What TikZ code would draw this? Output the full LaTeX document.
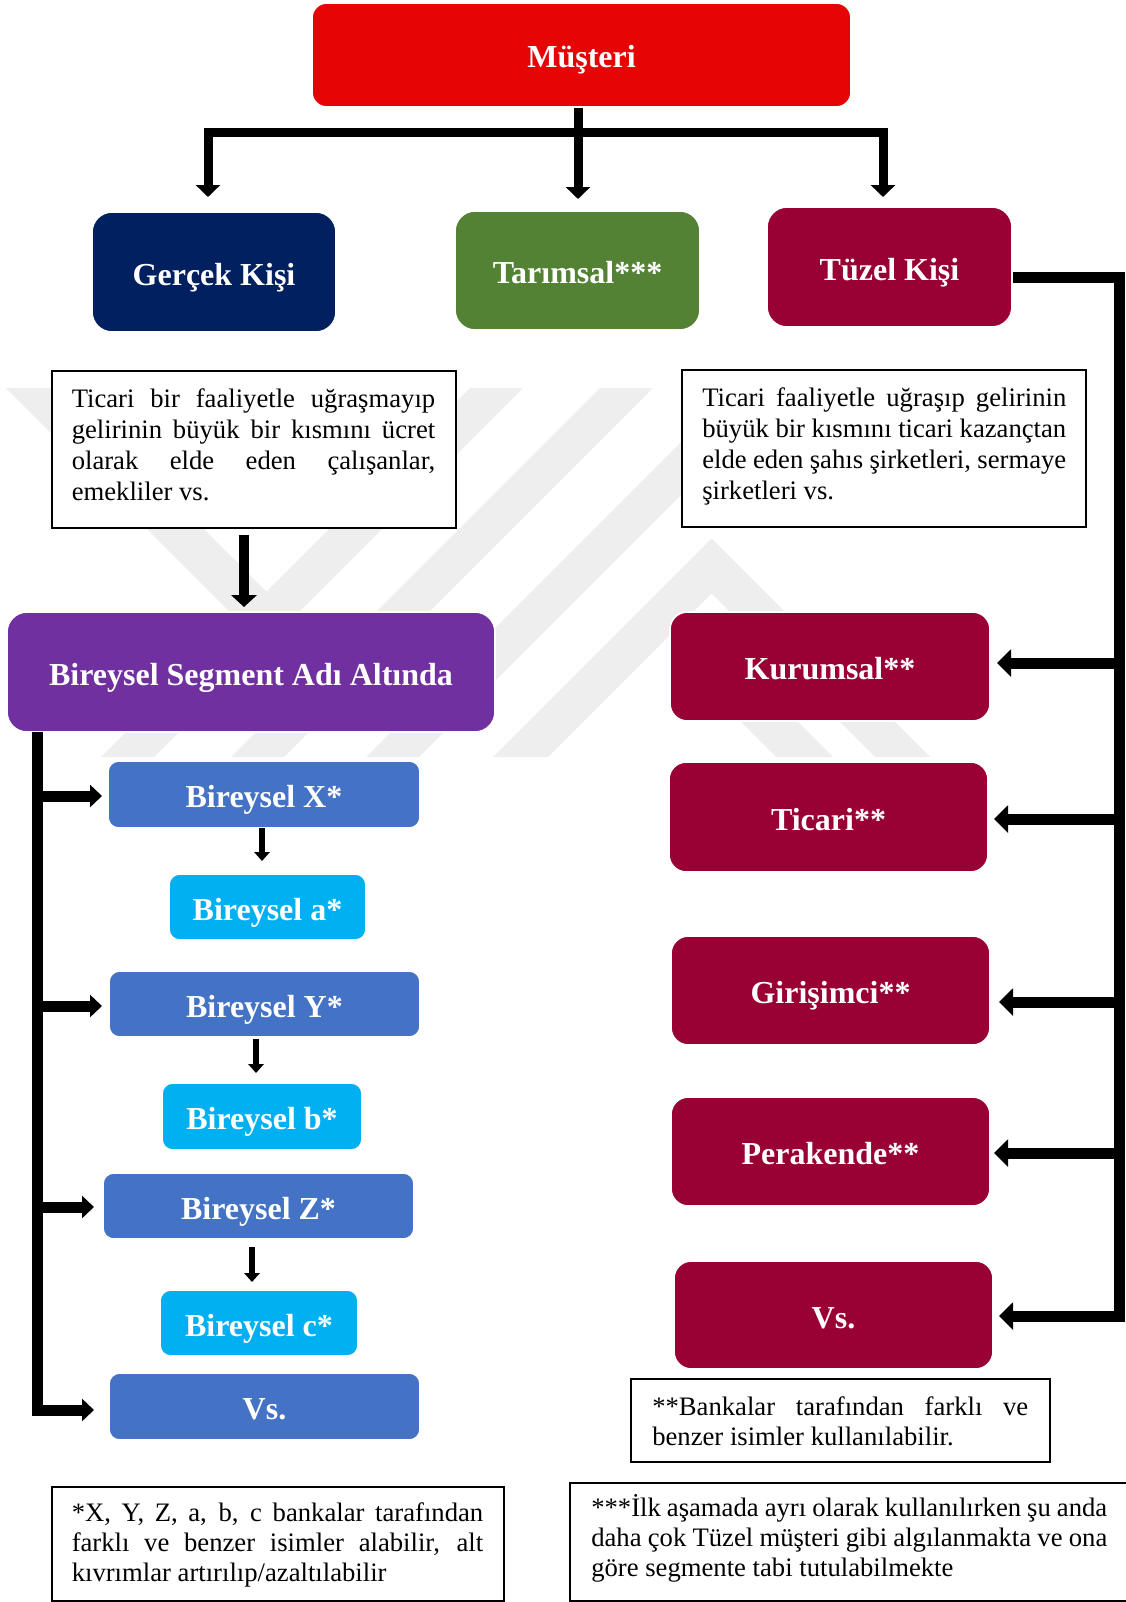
\documentclass[tikz,border=0pt]{standalone}
\usepackage{fontspec}
\setmainfont{Liberation Serif}
\usetikzlibrary{arrows.meta}
\definecolor{cRed}{RGB}{229,5,5}
\definecolor{cNavy}{RGB}{0,32,96}
\definecolor{cGreen}{RGB}{84,130,53}
\definecolor{cMaroon}{RGB}{153,0,51}
\definecolor{cPurple}{RGB}{112,48,160}
\definecolor{cBlue}{RGB}{68,114,196}
\definecolor{cCyan}{RGB}{0,176,240}
\definecolor{cWm}{RGB}{238,238,238}
\hyphenpenalty=10000
\exhyphenpenalty=10000
\tolerance=9999
\begin{document}
\begin{tikzpicture}[x=0.75pt,y=-0.75pt,
  cbox/.style={rectangle, rounded corners=#1, draw=white, line width=1.2pt, text=white, inner sep=0pt, text height=19.5pt, text depth=0pt, font=\bfseries\fontsize{24}{28}\selectfont},
  cbox/.default=15pt,
  sz/.style 2 args={minimum width={#1*0.75pt}, minimum height={#2*0.75pt}},
  tbox/.style={rectangle, draw=black, fill=white, line width=1.2pt, inner sep=0pt},
  ttext/.style={inner sep=0pt, anchor=base west, align=justify, font=\fontsize{20}{23.4}\selectfont},
  ftext/.style={inner sep=0pt, anchor=base west, align=justify, font=\fontsize{20}{22.8}\selectfont},
  tline/.style={line width=6.75pt},
  tipT/.style={-{Triangle[length=9pt,width=18pt]}},
  mline/.style={line width=8pt, -{Triangle[length=9pt,width=19pt]}},
  lline/.style={line width=8.25pt},
  tipL/.style={-{Triangle[length=9pt,width=16.5pt]}},
  sline/.style={line width=5pt, -{Triangle[length=6.75pt,width=11.5pt]}},
  rline/.style={line width=8.25pt},
  tipR/.style={-{Triangle[length=10.5pt,width=20pt]}}
]
\useasboundingbox (0,0) rectangle (1125,1602);
% watermark
\begin{scope}
  \clip (0,388) rectangle (1125,757);
  \fill[cWm] (6,388) -- (63,388) -- (293,618) -- (264.5,646.5) -- cycle;
  \fill[cWm] (470,388) -- (523,388) -- (154,757) -- (101,757) -- cycle;
  \fill[cWm] (600,388) -- (653,388) -- (284,757) -- (231,757) -- cycle;
  \fill[cWm] (735,388) -- (788,388) -- (419,757) -- (366,757) -- cycle;
  \fill[cWm] (711.5,538.5) -- (930,757) -- (875,757) -- (711.5,593.5) -- (548,757) -- (493,757) -- cycle;
  \fill[cWm] (719,700) -- (776,700) -- (833,757) -- (776,757) -- cycle;
\end{scope}
% coloured boxes
\node[cbox=11pt, fill=cRed, sz={539}{104}] (must) at (581.5,55) {Müşteri};
\node[cbox, fill=cNavy, sz={244}{120}] (ger) at (214,272) {Gerçek Kişi};
\node[cbox, fill=cGreen, sz={245}{119}] (tar) at (577.5,270.5) {Tarımsal***};
\node[cbox, fill=cMaroon, sz={245}{120}] (tuz) at (889.5,267) {Tüzel Kişi};
\node[cbox, fill=cPurple, sz={488}{120}] (seg) at (251,672) {Bireysel Segment Adı Altında};
\node[cbox=13pt, fill=cMaroon, sz={320}{109}] (kur) at (830,666.5) {Kurumsal**};
\node[cbox=13pt, fill=cMaroon, sz={319}{110}] (tic) at (828.5,817) {Ticari**};
\node[cbox=13pt, fill=cMaroon, sz={319}{109}] (gir) at (830.5,990.5) {Girişimci**};
\node[cbox=13pt, fill=cMaroon, sz={319}{109}] (per) at (830.5,1151.5) {Perakende**};
\node[cbox=13pt, fill=cMaroon, sz={319}{108}] (vsr) at (833.5,1315) {Vs.};
\node[cbox=8pt, fill=cBlue, sz={312}{67}] (bx) at (264,794.5) {Bireysel X*};
\node[cbox=8pt, fill=cCyan, sz={197}{66}] (ba) at (267.5,907) {Bireysel a*};
\node[cbox=8pt, fill=cBlue, sz={311}{66}] (by) at (264.5,1004) {Bireysel Y*};
\node[cbox=8pt, fill=cCyan, sz={200}{67}] (bb) at (262,1116.5) {Bireysel b*};
\node[cbox=8pt, fill=cBlue, sz={311}{66}] (bz) at (258.5,1206) {Bireysel Z*};
\node[cbox=8pt, fill=cCyan, sz={198}{66}] (bc) at (259,1323) {Bireysel c*};
\node[cbox=8pt, fill=cBlue, sz={311}{67}] (bvs) at (264.5,1406.5) {Vs.};
% text boxes
\node[tbox, sz={404}{157}] (t1box) at (254,449.5) {};
\node[ttext, text width=272.6pt] (t1) at (71.5,407) {Ticari bir faaliyetle uğraşmayıp\linebreak gelirinin büyük bir kısmını ücret\linebreak olarak elde eden çalışanlar,\linebreak emekliler vs.};
\node[tbox, sz={404}{157}] (t2box) at (884,448.5) {};
\node[ttext, text width=273pt] (t2) at (702,406) {Ticari faaliyetle uğraşıp gelirinin\linebreak büyük bir kısmını ticari kazançtan\linebreak elde eden şahıs şirketleri, sermaye\linebreak şirketleri vs.};
\node[tbox, sz={419}{83}] (f2box) at (840.5,1420.5) {};
\node[ftext, text width=282pt] (f2) at (652,1415) {**Bankalar tarafından farklı ve\linebreak benzer isimler kullanılabilir.};
\node[tbox, sz={452}{114}] (f1box) at (278,1544) {};
\node[ftext, text width=308.6pt] (f1) at (71.5,1521) {*X, Y, Z, a, b, c bankalar tarafından\linebreak farklı ve benzer isimler alabilir, alt\linebreak kıvrımlar artırılıp/azaltılabilir};
\node[tbox, sz={557}{118}] (f3box) at (848.5,1542) {};
\node[ftext, text width=387pt] (f3) at (591,1516) {***İlk aşamada ayrı olarak kullanılırken şu anda\linebreak daha çok Tüzel müşteri gibi algılanmakta ve ona\linebreak göre segmente tabi tutulabilmekte};
% top connectors
\coordinate (tb) at (578,132);
\coordinate (d1) at (208,197);
\coordinate (d2) at (578,199);
\coordinate (d3) at (883,197);
\draw[tline] (must.south -| tb) -- (tb);
\draw[tline, tipT] (tb) -| (d1);
\draw[tline, tipT] (tb) -| (d3);
\draw[tline, tipT] (tb) -- (d2);
% text box to segment
\coordinate (s1) at (244,535);
\coordinate (s2) at (244,607);
\draw[mline] (s1) -- (s2);
% left tree
\coordinate (l0) at (37,732);
\coordinate (lx) at (37,796);
\coordinate (ly) at (37,1006);
\coordinate (lz) at (37,1207);
\coordinate (lv) at (37,1410);
\coordinate (ex) at (102,796);
\coordinate (ey) at (102,1006);
\coordinate (ez) at (94,1207);
\coordinate (ev) at (94,1410);
\draw[lline, tipL] (l0) -- (lv) -- (ev);
\draw[lline, tipL] (lx) -- (ex);
\draw[lline, tipL] (ly) -- (ey);
\draw[lline, tipL] (lz) -- (ez);
% small down arrows
\coordinate (a1s) at (262,828);
\coordinate (a1e) at (262,861);
\coordinate (a2s) at (256,1039);
\coordinate (a2e) at (256,1073);
\coordinate (a3s) at (252,1247);
\coordinate (a3e) at (252,1282);
\draw[sline] (a1s) -- (a1e);
\draw[sline] (a2s) -- (a2e);
\draw[sline] (a3s) -- (a3e);
% right tree
\coordinate (r0) at (1119,277);
\coordinate (rk) at (1119,663);
\coordinate (rt) at (1119,819);
\coordinate (rg) at (1119,1002);
\coordinate (rp) at (1119,1153);
\coordinate (rv) at (1119,1316);
\coordinate (ek) at (997,663);
\coordinate (et) at (994,819);
\coordinate (eg) at (999,1002);
\coordinate (ep) at (994,1153);
\coordinate (ev2) at (999,1316);
\draw[rline, tipR] (tuz.east |- r0) -- (r0) -- (rv) -- (ev2);
\draw[rline, tipR] (rk) -- (ek);
\draw[rline, tipR] (rt) -- (et);
\draw[rline, tipR] (rg) -- (eg);
\draw[rline, tipR] (rp) -- (ep);
\end{tikzpicture}
\end{document}
